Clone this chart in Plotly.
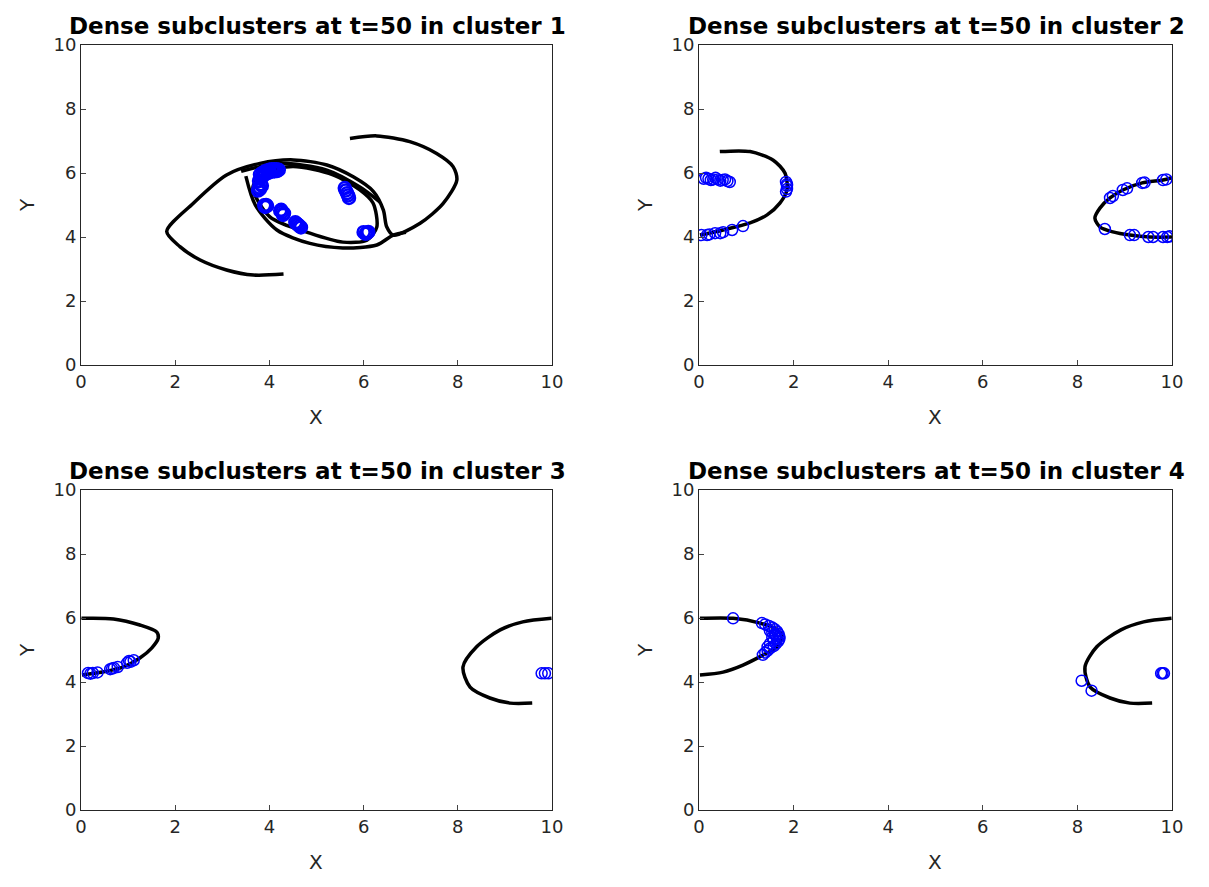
import plotly.graph_objects as go
from plotly.subplots import make_subplots

# ---- cluster 1: black trajectories ----
c1_outer_x = [4.3, 3.66, 3.09, 2.53, 2.10, 1.82, 2.38, 3.09, 3.80, 4.51, 5.22, 5.78, 6.21, 6.42, 6.49, 6.63,
              7.2, 7.69, 7.98, 7.9, 7.55, 6.98, 6.28, 5.71]
c1_outer_y = [2.84, 2.81, 2.97, 3.28, 3.70, 4.17, 5.05, 5.94, 6.30, 6.41, 6.25, 5.88, 5.42, 4.84, 4.32, 4.06,
              4.43, 5.05, 5.78, 6.2, 6.61, 6.98, 7.16, 7.08]
c1_arm_x = [3.4, 4.2, 5.22, 5.92, 6.35]
c1_arm_y = [6.05, 6.3, 6.09, 5.56, 5.09]
c1_loop_x = [3.65, 4.01, 4.86, 5.56, 6.07, 6.28, 6.2, 5.92, 5.35, 4.5, 3.9, 3.65]
c1_loop_y = [5.56, 4.63, 4.12, 3.84, 3.9, 4.31, 5.06, 5.47, 5.94, 6.2, 6.0, 5.56]
c1_band_x = [3.5, 3.7, 4.16, 4.86, 5.56, 6.28, 6.63, 6.9]
c1_band_y = [5.9, 5.0, 4.22, 3.8, 3.66, 3.75, 4.06, 4.15]

# ---- cluster 1: dense subclusters ----
c1_blue_x = [3.8, 3.85, 3.9, 3.95, 4.0, 4.05, 4.1, 4.15, 4.2, 3.82, 3.9, 4.0, 4.1, 3.86, 3.96, 4.06, 4.16,
             3.78, 3.8, 3.82, 3.78, 3.84, 3.76,
             3.91, 3.95, 3.93, 3.89,
             4.27, 4.29, 4.25, 4.31, 4.23,
             4.61, 4.55, 4.67, 4.64, 4.58,
             5.65, 5.6, 5.69, 5.62, 5.67,
             6.07, 6.0, 6.04, 6.1]
c1_blue_y = [5.95, 6.0, 6.05, 6.08, 6.1, 6.12, 6.12, 6.12, 6.1, 5.85, 5.95, 6.02, 6.05, 5.9, 6.0, 6.08, 6.06,
             5.55, 5.5, 5.65, 5.75, 5.6, 5.45,
             4.94, 4.97, 5.0, 4.99,
             4.78, 4.69, 4.85, 4.74, 4.82,
             4.38, 4.46, 4.3, 4.34, 4.42,
             5.37, 5.53, 5.22, 5.45, 5.3,
             4.12, 4.15, 4.1, 4.16]

# ---- cluster 2 ----
c2_left_x = [0.44, 1.08, 1.57, 1.82, 1.86, 1.71, 1.44, 1.08, 0.51, 0.02]
c2_left_y = [6.67, 6.67, 6.4, 5.99, 5.47, 5.06, 4.69, 4.44, 4.22, 4.06]
c2_right_x = [9.99, 9.81, 9.37, 8.96, 8.69, 8.48, 8.37, 8.48, 8.75, 9.11, 9.53, 10.0]
c2_right_y = [5.85, 5.78, 5.69, 5.47, 5.22, 4.91, 4.59, 4.31, 4.16, 4.06, 4.0, 4.0]
c2_blue_x = [0.1, 0.2, 0.3, 0.4, 0.5, 0.6, 0.65, 0.15, 0.35, 0.55, 0.25, 0.45,
             1.84, 1.86, 1.86, 1.84, 1.86,
             0.05, 0.17, 0.22, 0.34, 0.45, 0.51, 0.7, 0.93,
             8.69, 8.75, 8.96, 9.05, 9.37, 9.42, 9.81, 9.88,
             8.58, 9.11, 9.2, 9.5, 9.6, 9.81, 9.9, 9.95]
c2_blue_y = [5.82, 5.82, 5.8, 5.8, 5.78, 5.75, 5.72, 5.85, 5.85, 5.8, 5.78, 5.76,
             5.72, 5.6, 5.5, 5.42, 5.65,
             4.06, 4.06, 4.08, 4.12, 4.12, 4.15, 4.22, 4.34,
             5.22, 5.28, 5.47, 5.52, 5.69, 5.7, 5.78, 5.8,
             4.25, 4.06, 4.06, 4.0, 4.0, 4.0, 4.0, 4.02]

# ---- cluster 3 ----
c3_left_x = [0.01, 0.69, 1.25, 1.61, 1.64, 1.5, 1.25, 0.9, 0.46, 0.02]
c3_left_y = [5.99, 5.97, 5.78, 5.56, 5.37, 5.06, 4.75, 4.47, 4.31, 4.22]
c3_right_x = [9.99, 9.38, 8.9, 8.4, 8.11, 8.26, 8.68, 9.11, 9.58]
c3_right_y = [5.99, 5.88, 5.63, 5.1, 4.47, 3.84, 3.5, 3.34, 3.34]
c3_blue_x = [0.15, 0.25, 0.35, 0.2, 0.62, 0.7, 0.78, 0.66, 0.98, 1.05, 1.12, 1.02, 9.78, 9.85, 9.92]
c3_blue_y = [4.28, 4.28, 4.3, 4.26, 4.4, 4.44, 4.47, 4.42, 4.6, 4.63, 4.68, 4.66, 4.27, 4.27, 4.27]

# ---- cluster 4 ----
c4_left_x = [0.02, 0.72, 1.29, 1.65, 1.75, 1.65, 1.35, 0.93, 0.51, 0.02]
c4_left_y = [5.99, 5.99, 5.84, 5.63, 5.41, 5.1, 4.84, 4.53, 4.31, 4.22]
c4_right_x = [9.99, 9.4, 8.92, 8.41, 8.16, 8.27, 8.69, 9.11, 9.58]
c4_right_y = [5.99, 5.88, 5.63, 5.1, 4.47, 3.84, 3.5, 3.34, 3.34]
c4_blue_x = [0.72, 1.33, 1.4, 1.48, 1.55, 1.6, 1.65, 1.68, 1.7, 1.7, 1.68, 1.63, 1.58, 1.5,
             1.45, 1.4, 1.35, 1.55, 1.6, 1.58, 1.5, 1.5, 1.62, 1.45, 1.55, 1.65,
             8.09, 8.3, 9.77, 9.8, 9.83]
c4_blue_y = [5.99, 5.84, 5.8, 5.75, 5.7, 5.65, 5.58, 5.5, 5.42, 5.35, 5.28, 5.2, 5.12, 5.05,
             4.98, 4.92, 4.85, 5.4, 5.5, 5.3, 5.2, 5.6, 5.45, 5.1, 5.55, 5.35,
             4.04, 3.73, 4.27, 4.27, 4.27]

titles = ["Dense subclusters at t=50 in cluster %d" % i for i in range(1, 5)]

panels = [
    ([(c1_outer_x, c1_outer_y), (c1_arm_x, c1_arm_y), (c1_loop_x, c1_loop_y), (c1_band_x, c1_band_y)],
     (c1_blue_x, c1_blue_y)),
    ([(c2_left_x, c2_left_y), (c2_right_x, c2_right_y)], (c2_blue_x, c2_blue_y)),
    ([(c3_left_x, c3_left_y), (c3_right_x, c3_right_y)], (c3_blue_x, c3_blue_y)),
    ([(c4_left_x, c4_left_y), (c4_right_x, c4_right_y)], (c4_blue_x, c4_blue_y)),
]

W, H = 1209, 887
fig = make_subplots(rows=2, cols=2)

# pixel boxes of the four axes (left, right, top, bottom)
boxes = [(81, 552, 45, 365), (699, 1172, 45, 365), (81, 552, 490, 810), (699, 1172, 490, 810)]

font = "DejaVu Sans, Arial, sans-serif"
annotations = []
for i, ((curves, blue), box) in enumerate(zip(panels, boxes)):
    row, col = i // 2 + 1, i % 2 + 1
    for cx, cy in curves:
        fig.add_trace(go.Scatter(x=cx, y=cy, mode='lines',
                                 line=dict(color='black', width=3.5, shape='spline', smoothing=0.8),
                                 showlegend=False, hoverinfo='skip'), row=row, col=col)
    # cluster 1 rings are much more crowded, so they read heavier
    msize, mwidth = (12, 2.5) if i == 0 else (11, 1.5)
    fig.add_trace(go.Scatter(x=blue[0], y=blue[1], mode='markers',
                             marker=dict(symbol='circle-open', size=msize, color='#0000ff',
                                         line=dict(width=mwidth, color='#0000ff')),
                             showlegend=False), row=row, col=col)

    l, r, t, b = box
    xd = [l / W, r / W]
    yd = [1 - b / H, 1 - t / H]
    ax = dict(range=[0, 10], tickvals=[0, 2, 4, 6, 8, 10], ticks='inside', ticklen=5,
              showline=True, mirror=True, linecolor='#262626', linewidth=1, automargin=False,
              showgrid=False, zeroline=False, tickfont=dict(size=18, color='#262626', family=font))
    fig.update_xaxes(domain=xd, **ax, row=row, col=col)
    fig.update_yaxes(domain=yd, **ax, row=row, col=col)

    cx_px = (l + r) / 2
    annotations.append(dict(text="<b>%s</b>" % titles[i], x=(cx_px + 1) / W, y=1 - (t - 19) / H,
                            xref='paper', yref='paper', showarrow=False, xanchor='center', yanchor='middle',
                            font=dict(size=23, color='black', family=font)))
    annotations.append(dict(text="X", x=(cx_px - 1) / W, y=1 - (b + 52) / H,
                            xref='paper', yref='paper', showarrow=False, xanchor='center', yanchor='middle',
                            font=dict(size=20, color='#262626', family=font)))
    annotations.append(dict(text="Y", x=(l - 54) / W, y=1 - (t + b) / 2 / H, textangle=-90,
                            xref='paper', yref='paper', showarrow=False, xanchor='center', yanchor='middle',
                            font=dict(size=20, color='#262626', family=font)))

fig.update_layout(width=W, height=H, margin=dict(l=0, r=0, t=0, b=0, pad=0),
                  plot_bgcolor='white', paper_bgcolor='white',
                  font=dict(family=font), annotations=annotations, showlegend=False)

fig.write_html("out.html", config={'displayModeBar': False},
               post_script="document.body.style.margin='0';document.body.style.overflow='hidden';")
